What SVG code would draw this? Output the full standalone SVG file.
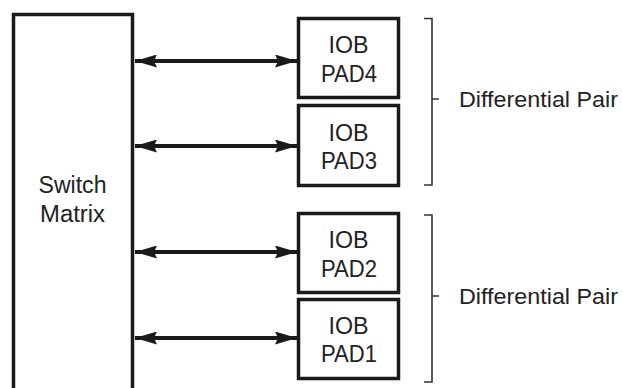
<svg xmlns="http://www.w3.org/2000/svg" width="622" height="388" viewBox="0 0 622 388">
<defs>
<style>
.box{fill:#fff;stroke:#1a1a1a;stroke-width:3.5}
.t{font-family:"Liberation Sans",Arial,sans-serif;font-size:23.5px;fill:#222;text-anchor:middle}
.lbl{font-family:"Liberation Sans",Arial,sans-serif;font-size:22px;fill:#222}
.ln{stroke:#1a1a1a;stroke-width:4;fill:none}
.br{stroke:#333;stroke-width:1.6;fill:none}
</style>
<marker id="ah" viewBox="0 0 22 13" refX="22" refY="6.5" markerWidth="22" markerHeight="13" markerUnits="userSpaceOnUse" orient="auto-start-reverse">
<path d="M0,0 L22,6.5 L0,13 L3,6.5 Z" fill="#1a1a1a"/>
</marker>
</defs>
<rect width="622" height="388" fill="#fff"/>
<g id="switch-matrix">
<rect class="box" x="13.5" y="14.5" width="119" height="400"/>
<text class="t" x="72.5" y="193" textLength="68" lengthAdjust="spacingAndGlyphs">Switch</text>
<text class="t" x="72.5" y="222" textLength="65" lengthAdjust="spacingAndGlyphs">Matrix</text>
</g>
<g id="pad4">
<rect class="box" x="298.5" y="18.5" width="100" height="79"/>
<text class="t" x="348.5" y="53" textLength="40" lengthAdjust="spacingAndGlyphs">IOB</text>
<text class="t" x="349" y="81.5" textLength="56" lengthAdjust="spacingAndGlyphs">PAD4</text>
</g>
<g id="pad3">
<rect class="box" x="298.5" y="105.5" width="100" height="80"/>
<text class="t" x="348.5" y="140.5" textLength="40" lengthAdjust="spacingAndGlyphs">IOB</text>
<text class="t" x="349" y="169" textLength="56" lengthAdjust="spacingAndGlyphs">PAD3</text>
</g>
<g id="pad2">
<rect class="box" x="298.5" y="213.5" width="100" height="79"/>
<text class="t" x="348.5" y="248" textLength="40" lengthAdjust="spacingAndGlyphs">IOB</text>
<text class="t" x="349" y="276.5" textLength="56" lengthAdjust="spacingAndGlyphs">PAD2</text>
</g>
<g id="pad1">
<rect class="box" x="298.5" y="299.5" width="100" height="79"/>
<text class="t" x="348.5" y="334" textLength="40" lengthAdjust="spacingAndGlyphs">IOB</text>
<text class="t" x="349" y="362" textLength="56" lengthAdjust="spacingAndGlyphs">PAD1</text>
</g>
<g id="connectors">
<line class="ln" x1="135" y1="61" x2="297" y2="61" marker-start="url(#ah)" marker-end="url(#ah)"/>
<line class="ln" x1="135" y1="146" x2="297" y2="146" marker-start="url(#ah)" marker-end="url(#ah)"/>
<line class="ln" x1="135" y1="252" x2="297" y2="252" marker-start="url(#ah)" marker-end="url(#ah)"/>
<line class="ln" x1="135" y1="338" x2="297" y2="338" marker-start="url(#ah)" marker-end="url(#ah)"/>
</g>
<g id="pair-top">
<path class="br" d="M424,18.5 L432,18.5 L432,185 L424,185 M432,99 L439,99"/>
<text class="lbl" x="459" y="107" textLength="159" lengthAdjust="spacingAndGlyphs">Differential Pair</text>
</g>
<g id="pair-bottom">
<path class="br" d="M424,215 L432,215 L432,382 L424,382 M432,296 L439,296"/>
<text class="lbl" x="459" y="304" textLength="159" lengthAdjust="spacingAndGlyphs">Differential Pair</text>
</g>
</svg>
